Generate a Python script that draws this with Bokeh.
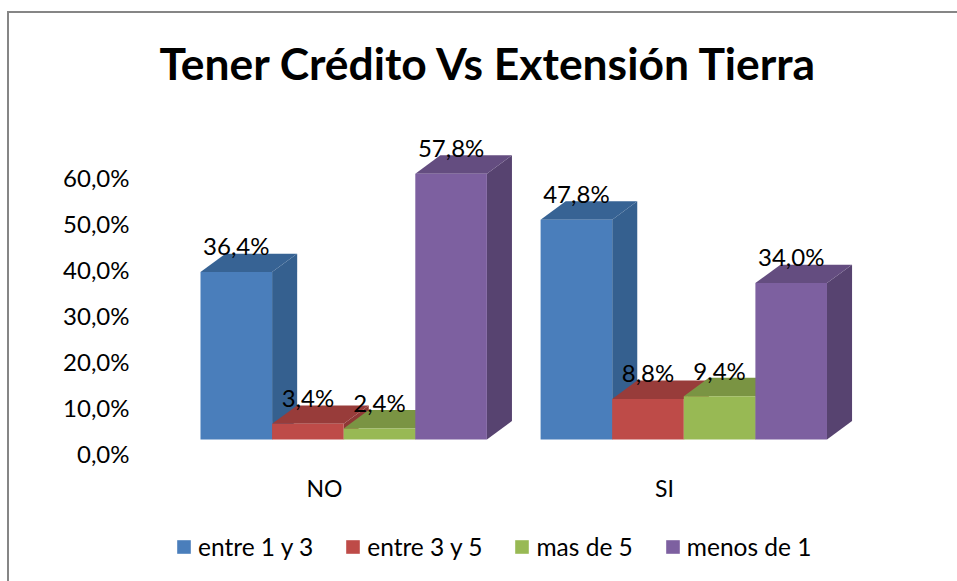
from bokeh.plotting import figure
from bokeh.models import ColumnDataSource, Range1d, FixedTicker, Legend, LegendItem, Title
from bokeh.core.properties import value
from bokeh.embed import file_html
from bokeh.resources import INLINE

groups = ["NO", "SI"]
series = ["entre 1 y 3", "entre 3 y 5", "mas de 5", "menos de 1"]
values = {
    "entre 1 y 3": [36.4, 47.8],
    "entre 3 y 5": [3.4, 8.8],
    "mas de 5": [2.4, 9.4],
    "menos de 1": [57.8, 34.0],
}
front_colors = ["#4a7ebb", "#be4b48", "#98b954", "#7d60a0"]
top_colors = ["#376394", "#983c3a", "#7a9443", "#644d80"]
side_colors = ["#35608f", "#8f3836", "#708a3d", "#574370"]
y_ticks = [0, 10, 20, 30, 40, 50, 60]

FONT = "Lato"
group_start = [0.0, 4.75]
base = 3.04      # projected floor, front edge
dx, dy = 0.35, 4.0  # projected depth
label_gap = 5.7
group_label_y = -7.4

p = figure(frame_width=720, frame_height=469, output_backend="svg", toolbar_location=None,
           x_range=Range1d(-0.852, 9.204), y_range=Range1d(-27.83, 74.13),
           min_border_left=130, min_border_right=98, min_border_top=0, min_border_bottom=0,
           outline_line_color=None, background_fill_color="white", border_fill_color="white")
p.styles = {"border-top": "2px solid #868686", "border-left": "2px solid #868686",
            "margin-top": "11px", "margin-left": "7px"}
p.grid.visible = False
p.xaxis.visible = False

p.title = Title(text="Tener Crédito Vs Extensión Tierra", text_font=FONT, text_font_size="44.4px",
                text_font_style="bold", text_color="black", align="left", offset=20,
                standoff=44, vertical_align="top", text_baseline="top")

legend_items = []
lx, ly, lt = [], [], []
for s, name in enumerate(series):
    lefts = [g + s for g in group_start]
    rights = [l + 1 for l in lefts]
    tops = [base + v for v in values[name]]
    bottoms = [base, base]
    side_xs = [[r, r + dx, r + dx, r] for r in rights]
    side_ys = [[base, base + dy, t + dy, t] for t in tops]
    top_xs = [[l, l + dx, r + dx, r] for l, r in zip(lefts, rights)]
    top_ys = [[t, t + dy, t + dy, t] for t in tops]
    p.patches(side_xs, side_ys, fill_color=side_colors[s], line_color=None)
    p.patches(top_xs, top_ys, fill_color=top_colors[s], line_color=None)
    q = p.quad(left=lefts, right=rights, bottom=bottoms, top=tops,
               fill_color=front_colors[s], line_color=None)
    legend_items.append(LegendItem(label=name, renderers=[q]))
    for l, t, v in zip(lefts, tops, values[name]):
        lx.append(l + 0.5)
        ly.append(t + label_gap)
        lt.append(f"{v:.1f}%".replace(".", ","))

src = ColumnDataSource(dict(x=lx, y=ly, t=lt))
p.text("x", "y", text="t", source=src, text_font=value(FONT), text_font_size="24px",
       text_color="black", text_align="center", text_baseline="middle")

centers = [g + 2 - 0.27 for g in group_start]
p.text(centers, [group_label_y] * len(groups), text=groups, text_font=value(FONT),
       text_font_size="23px", text_color="black", text_align="center", text_baseline="middle")

p.yaxis.ticker = FixedTicker(ticks=y_ticks)
p.yaxis.major_label_overrides = {t: f"{t},0%" for t in y_ticks}
p.yaxis.axis_line_color = None
p.yaxis.major_tick_line_color = None
p.yaxis.minor_tick_line_color = None
p.yaxis.major_label_text_font = FONT
p.yaxis.major_label_text_font_size = "24px"
p.yaxis.major_label_text_color = "black"
p.yaxis.major_label_standoff = 4

leg = Legend(items=legend_items, orientation="horizontal", location=(36, 20),
             label_text_font=FONT, label_text_font_size="24.5px", label_text_color="black",
             glyph_width=17, glyph_height=17, spacing=31, label_standoff=6,
             border_line_color=None, background_fill_alpha=0, margin=0, padding=0)
p.add_layout(leg)

open("out.html", "w").write(file_html(p, INLINE))
